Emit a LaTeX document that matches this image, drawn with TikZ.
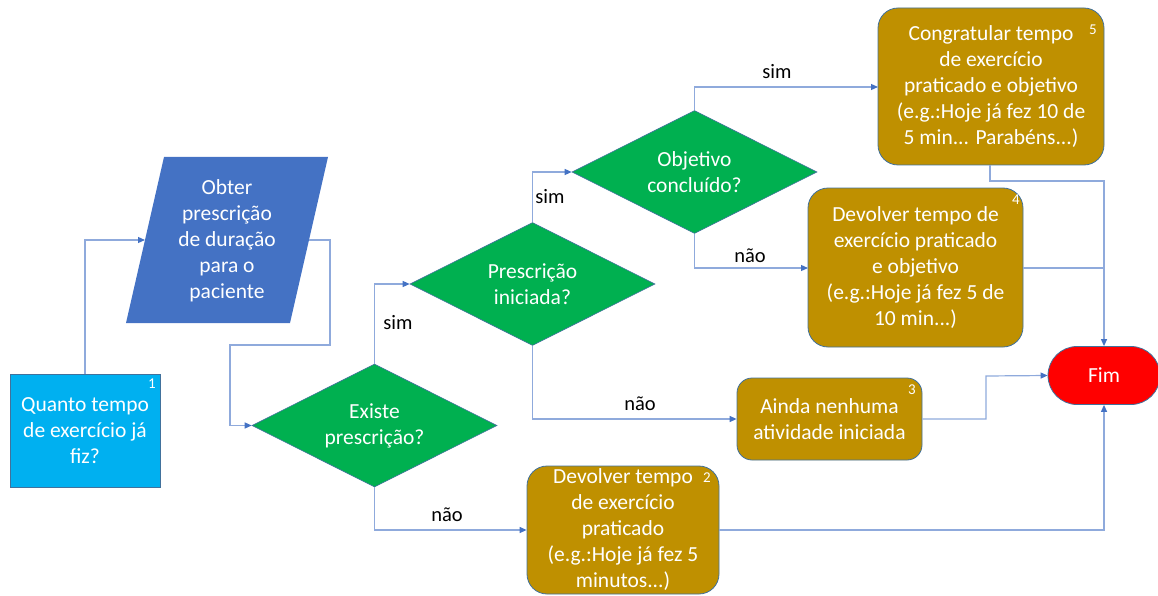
\documentclass[tikz,border=0pt]{standalone}
\usepackage{fontspec}
\setmainfont{Carlito}
\usetikzlibrary{shapes.geometric,arrows.meta}
\definecolor{linec}{HTML}{8FAADC}
\definecolor{arrowc}{HTML}{4472C4}
\definecolor{edgec}{HTML}{41719C}
\definecolor{cyanf}{HTML}{00B0F0}
\definecolor{bluef}{HTML}{4472C4}
\definecolor{greenf}{HTML}{00B050}
\definecolor{goldf}{HTML}{BF9000}
\definecolor{redf}{HTML}{FF0000}
\tikzset{
  txt/.style={font=\fontsize{21.5}{26}\selectfont, text=white, align=center, inner sep=0pt},
  startbox/.style={txt, rectangle, draw=edgec, line width=0.8pt, fill=cyanf},
  actbox/.style={txt, rectangle, rounded corners=20pt, draw=edgec, line width=0.8pt, fill=goldf},
  decision/.style={txt, diamond, aspect=2, draw=edgec, line width=0.6pt, fill=greenf,
    minimum width=245pt, minimum height=123pt},
  endbox/.style={txt, rectangle, rounded corners=29pt, draw=edgec, line width=0.8pt, fill=redf},
  num/.style={font=\fontsize{15}{15}\selectfont, text=white, inner sep=0pt},
  lbl/.style={font=\fontsize{20.5}{20.5}\selectfont, text=black, inner sep=0pt},
  conn/.style={draw=linec, line width=1.2pt,
    -{Triangle[length=7pt,width=6pt,color=arrowc]}},
  plain/.style={draw=linec, line width=1.2pt}
}
\begin{document}
\begin{tikzpicture}[x=1pt,y=-1pt]
\useasboundingbox (0,0) rectangle (1158,596);

% start
\node[startbox, minimum width=150pt, minimum height=113pt] (b1) at (85,430.5)
  {Quanto tempo\\de exercício já\\fiz?};
\node[num] (n1) at (152,384) {1};

% input parallelogram
\fill[bluef] (164,157) -- (328,157) -- (290,323) -- (126,323) -- cycle;
\node[txt] (pg) at (227,240.5) {Obter\\prescrição\\de duração\\para o\\paciente};
\coordinate (pL) at (145,240);
\coordinate (pR) at (309,240);

% decisions
\node[decision] (d1) at (374.5,425.5) {Existe\\prescrição?};
\node[decision] (d2) at (532.5,284) {Prescrição\\iniciada?};
\node[decision] (d3) at (694.5,172) {Objetivo\\concluído?};

% actions
\node[actbox, minimum width=226pt, minimum height=157pt] (b5) at (991,86.5)
  {Congratular tempo\\de exercício\\praticado e objetivo\\(e.g.:Hoje já fez 10 de\\5 min... Parabéns...)};
\node[num] (n5) at (1093,30) {5};
\node[actbox, minimum width=215pt, minimum height=159pt] (b4) at (915.5,267.5)
  {Devolver tempo de\\exercício praticado\\e objetivo\\(e.g.:Hoje já fez 5 de\\10 min...)};
\node[num] (n4) at (1016,200) {4};
\node[actbox, rounded corners=15pt, minimum width=185pt, minimum height=82pt] (b3) at (829.5,419)
  {Ainda nenhuma\\atividade iniciada};
\node[num] (n3) at (912,390) {3};
\node[actbox, minimum width=192pt, minimum height=128pt] (b2) at (623,530)
  {Devolver tempo\\de exercício\\praticado\\(e.g.:Hoje já fez 5\\minutos...)};
\node[num] (n2) at (707,478) {2};

% end
\node[endbox, minimum width=112pt, minimum height=58pt] (fim) at (1104,375.5) {Fim};

% connectors
\draw[conn] (b1.north) |- (pL);
\coordinate (w1) at (330,345);
\coordinate (w2) at (230,425.5);
\draw[conn] (pR) -| (w1) -| (w2) -- (d1.west);

\draw[conn] (d1.north) |- (d2.west);
\node[lbl] (s1) at (398,323) {sim};
\draw[conn] (d1.south) |- (b2.west);
\node[lbl] (s2) at (447,515) {não};

\draw[conn] (d2.north) |- (d3.west);
\node[lbl] (s3) at (550,197) {sim};
\draw[conn] (d2.south) |- (b3.west);
\node[lbl] (s4) at (640,404) {não};

\coordinate (t5) at (878,87);
\draw[conn] (d3.north) |- (t5);
\node[lbl] (s5) at (777,72) {sim};
\coordinate (t4) at (808,268);
\draw[conn] (d3.south) |- (t4);
\node[lbl] (s6) at (750,256) {não};

\coordinate (j5) at (990,181);
\draw[conn] (b5.south -| j5) -- (j5) -| (fim.north);
\draw[plain] (b4.east |- t4) -- (fim.north |- t4);
\coordinate (j3) at (986,376);
\draw[conn] (b3.east) -| (j3) -- (fim.west);
\draw[conn] (b2.east) -| (fim.south);
\end{tikzpicture}
\end{document}
